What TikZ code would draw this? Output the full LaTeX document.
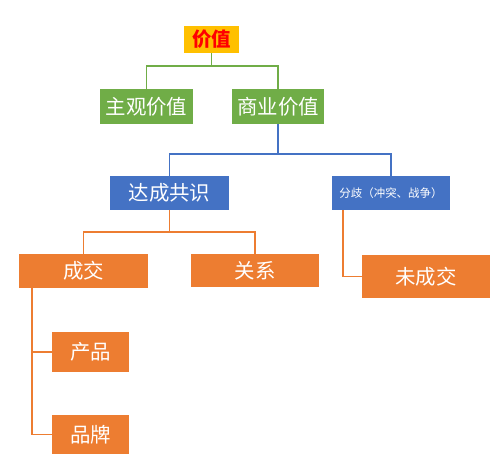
\documentclass[tikz,border=0pt]{standalone}
\usepackage{fontspec}
\setmainfont{Noto Sans CJK SC}
\definecolor{cgreen}{HTML}{70AD47}
\definecolor{cblue}{HTML}{4472C4}
\definecolor{corange}{HTML}{ED7D31}
\definecolor{cgold}{HTML}{FFC000}
\definecolor{cred}{HTML}{FF0000}
\begin{document}
\begin{tikzpicture}[x=1bp,y=-1bp,
  box/.style={draw=none,inner sep=0pt,text=white,font=\fontsize{20.5}{24}\selectfont},
  gbox/.style={box,fill=cgreen},
  bbox/.style={box,fill=cblue},
  obox/.style={box,fill=corange},
  gline/.style={draw=cgreen,line width=1.2bp},
  bline/.style={draw=cblue,line width=1.2bp},
  oline/.style={draw=corange,line width=1.2bp}]
\useasboundingbox (0,0) rectangle (502,460);
\node[box,fill=cgold,text=cred,font=\fontsize{19.5}{22}\selectfont\bfseries,minimum width=55bp,minimum height=27bp] (jz) at (211.5,39.5) {价值};
\node[gbox,minimum width=93bp,minimum height=35bp] (zg) at (146.5,106.5) {主观价值};
\node[gbox,minimum width=92bp,minimum height=35bp] (sy) at (278,106.5) {商业价值};
\node[bbox,minimum width=119bp,minimum height=34bp] (dc) at (169.5,193) {达成共识};
\node[bbox,minimum width=118bp,minimum height=34bp,font=\fontsize{11.5}{13}\selectfont] (fq) at (391,193) {分歧（冲突、战争）};
\node[obox,minimum width=129bp,minimum height=34bp] (cj) at (83.5,271) {成交};
\node[obox,minimum width=128bp,minimum height=33bp] (gx) at (255,270.5) {关系};
\node[obox,minimum width=128bp,minimum height=43bp] (wcj) at (426,276.5) {未成交};
\node[obox,minimum width=77bp,minimum height=40bp] (cp) at (90.5,352) {产品};
\node[obox,minimum width=77bp,minimum height=39bp] (pp) at (90.5,434.5) {品牌};
% green
\coordinate (g1) at (211.5,66);
\draw[gline] (jz.south) -- (g1);
\draw[gline] (g1) -| (zg.north);
\draw[gline] (g1) -| (sy.north);
% blue
\coordinate (b1) at (278,154);
\draw[bline] (sy.south) -- (b1);
\draw[bline] (b1) -| (dc.north);
\draw[bline] (b1) -| (fq.north);
% orange
\coordinate (o1) at (169.5,232);
\draw[oline] (dc.south) -- (o1);
\draw[oline] (o1) -| (cj.north);
\draw[oline] (o1) -| (gx.north);
\coordinate (f0) at (343,210);
\draw[oline] (f0) |- (wcj.west);
\coordinate (c0) at (32,288);
\draw[oline] (c0) |- (cp.west);
\draw[oline] (c0) |- (pp.west);
\end{tikzpicture}
\end{document}
